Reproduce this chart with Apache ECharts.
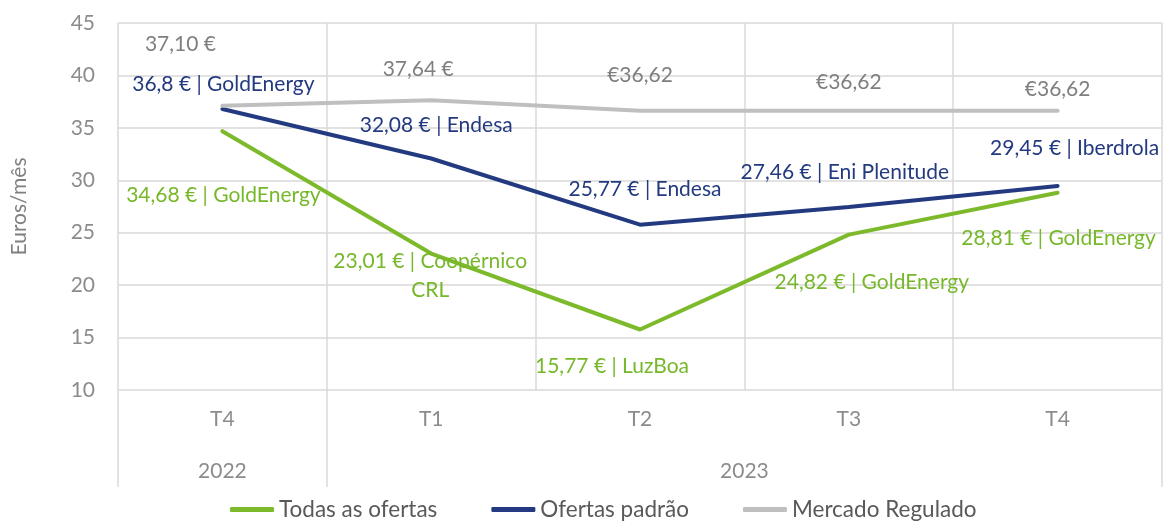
<!DOCTYPE html>
<html>
<head>
<meta charset="utf-8">
<script src="https://cdn.jsdelivr.net/npm/echarts@6/dist/echarts.min.js"></script>
<style>
  html, body { margin: 0; padding: 0; background: #fff; }
  #chart { width: 1163px; height: 524px; }
</style>
</head>
<body>
<div id="chart"></div>
<script>
// categorias (trimestres) e anos
const quarters = ['T4', 'T1', 'T2', 'T3', 'T4']
const years = ['2022', '2023']
const yearSpans = [1, 4]

// valores (€/mês)
const todasOfertas = [34.68, 23.01, 15.77, 24.82, 28.81]
const ofertasPadrao = [36.8, 32.08, 25.77, 27.46, 29.45]
const mercadoRegulado = [37.10, 37.64, 36.62, 36.62, 36.62]

// textos das etiquetas
const todasLabels = ['34,68 € | GoldEnergy', '23,01 € | Coopérnico\nCRL', '15,77 € | LuzBoa', '24,82 € | GoldEnergy', '28,81 € | GoldEnergy']
const padraoLabels = ['36,8 € | GoldEnergy', '32,08 € | Endesa', '25,77 € | Endesa', '27,46 € | Eni Plenitude', '29,45 € | Iberdrola']
const reguladoLabels = ['37,10 €', '37,64 €', '€36,62', '€36,62', '€36,62']

// deslocamentos das etiquetas (px)
const todasOffsets = [[1, 64], [-1, 22], [-28, 37], [23, 48], [1, 45]]
const padraoOffsets = [[1, -25], [5, -33], [5, -35], [-4, -35], [17, -38]]
const reguladoOffsets = [[-42, -62], [-13, -31], [0, -36], [0, -29], [0, -22]]

const FONT = 'Lato'
const FS = 21
const GREEN = '#7dba2b'
const BLUE = '#233a80'
const GREY = '#bfbfbf'
const GRID = '#d9d9d9'

// centros dos anos no eixo de valores 0..5
const yearCenters = []
let acc = 0
yearSpans.forEach(s => { yearCenters.push(acc + s / 2); acc += s })
const yearBounds = [0]
acc = 0
yearSpans.forEach(s => { acc += s; yearBounds.push(acc) })

function buildData(values, labels, offsets, color) {
  return values.map((v, i) => ({
    value: v,
    label: {
      show: true,
      position: 'inside',
      formatter: labels[i],
      offset: offsets[i],
      color: color,
      fontFamily: FONT,
      fontSize: FS,
      lineHeight: 29,
      align: 'center',
      verticalAlign: 'middle'
    }
  }))
}

function lineSeries(name, values, labels, offsets, color, labelColor) {
  return {
    name: name,
    type: 'line',
    xAxisIndex: 0,
    data: buildData(values, labels, offsets, labelColor),
    symbol: 'circle',
    symbolSize: 1,
    lineStyle: { color: color, width: 4, cap: 'round' },
    itemStyle: { color: color },
    emphasis: { disabled: true },
    animation: false
  }
}

const chart = echarts.init(document.getElementById('chart'))
chart.setOption({
  animation: false,
  textStyle: { fontFamily: FONT },
  grid: { left: 118, right: 1, top: 23, bottom: 134 },
  legend: {
    left: 225,
    bottom: -2,
    icon: 'roundRect',
    itemWidth: 44,
    itemHeight: 5,
    itemGap: 54,
    textStyle: { fontFamily: FONT, fontSize: 22.5, color: '#595959' },
    data: ['Todas as ofertas', 'Ofertas padrão', 'Mercado Regulado']
  },
  xAxis: [
    {
      type: 'category',
      data: quarters,
      boundaryGap: true,
      axisLine: { show: false },
      axisTick: { show: false },
      axisLabel: { margin: 19, fontFamily: FONT, fontSize: FS, color: '#8c8c8c' },
      splitLine: { show: true, interval: 0, lineStyle: { color: GRID, width: 1.5 } }
    },
    {
      type: 'value',
      min: 0,
      max: quarters.length,
      position: 'bottom',
      axisLine: { show: false },
      splitLine: { show: false },
      axisTick: {
        show: true,
        customValues: yearBounds,
        length: 97,
        lineStyle: { color: GRID, width: 1.5 }
      },
      axisLabel: {
        customValues: yearCenters,
        margin: 71,
        fontFamily: FONT,
        fontSize: FS,
        color: '#8c8c8c',
        formatter: v => {
          const i = yearCenters.indexOf(v)
          return i >= 0 ? years[i] : ''
        }
      }
    }
  ],
  yAxis: {
    type: 'value',
    min: 10,
    max: 45,
    interval: 5,
    name: 'Euros/mês',
    nameLocation: 'middle',
    nameGap: 88,
    nameTextStyle: { fontFamily: FONT, fontSize: FS, color: '#808080' },
    axisLine: { show: false },
    axisTick: { show: false },
    axisLabel: { margin: 23, fontFamily: FONT, fontSize: FS, color: '#8c8c8c' },
    splitLine: { show: true, lineStyle: { color: GRID, width: 1.5 } }
  },
  series: [
    lineSeries('Todas as ofertas', todasOfertas, todasLabels, todasOffsets, GREEN, '#76b82a'),
    lineSeries('Ofertas padrão', ofertasPadrao, padraoLabels, padraoOffsets, BLUE, '#233a80'),
    lineSeries('Mercado Regulado', mercadoRegulado, reguladoLabels, reguladoOffsets, GREY, '#7f7f7f')
  ]
})
</script>
</body>
</html>
